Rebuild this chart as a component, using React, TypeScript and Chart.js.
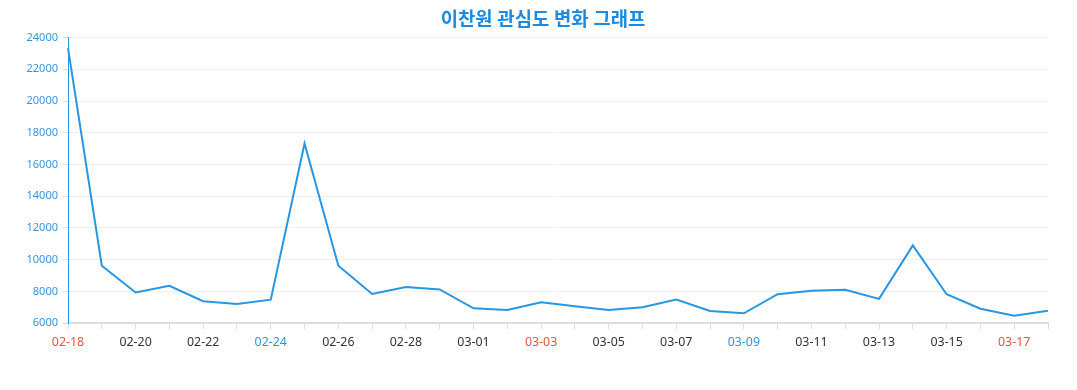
import React, { useEffect, useRef } from "react";
import { Chart, registerables } from "chart.js";

Chart.register(...registerables);

const title = "이찬원 관심도 변화 그래프";

const dates = [
  "02-18", "02-19", "02-20", "02-21", "02-22", "02-23", "02-24", "02-25", "02-26", "02-27",
  "02-28", "02-29", "03-01", "03-02", "03-03", "03-04", "03-05", "03-06", "03-07", "03-08",
  "03-09", "03-10", "03-11", "03-12", "03-13", "03-14", "03-15", "03-16", "03-17", "03-18",
];

const interest = [
  23350, 9620, 7930, 8350, 7380, 7210, 7480, 17320, 9620, 7840,
  8270, 8120, 6930, 6830, 7310, 7060, 6830, 7000, 7480, 6760,
  6620, 7820, 8040, 8100, 7530, 10900, 7820, 6910, 6470, 6780,
];

// weekend markers (2024)
const sundays = ["02-18", "02-25", "03-03", "03-10", "03-17"];
const saturdays = ["02-24", "03-02", "03-09", "03-16"];

const yMin = 6000;
const yMax = 24000;
const yStep = 2000;

const FONT = "'Noto Sans', 'Noto Sans CJK KR', 'Open Sans', sans-serif";

export default function App() {
  const ref = useRef<HTMLCanvasElement | null>(null);

  useEffect(() => {
    if (!ref.current) return;
    const chart = new Chart(ref.current, {
      type: "line",
      data: {
        labels: dates,
        datasets: [
          {
            data: interest,
            yAxisID: "y",
            borderColor: "#2896e3",
            backgroundColor: "#2896e3",
            borderWidth: 2,
            pointRadius: 0,
            pointHoverRadius: 0,
            tension: 0,
            fill: false,
          },
        ],
      },
      options: {
        animation: false,
        responsive: false,
        maintainAspectRatio: false,
        layout: { padding: { left: 9, right: 0, top: 0, bottom: 34 } },
        plugins: {
          legend: { display: false },
          tooltip: { enabled: false },
          title: {
            display: true,
            text: title,
            color: "#1a8be0",
            font: { family: FONT, size: 18.8, weight: "bold" },
            padding: { top: 9, bottom: 6 },
          },
        },
        scales: {
          x: {
            grid: {
              drawOnChartArea: false,
              drawTicks: true,
              tickLength: 6,
              color: "#dddddd",
            },
            border: { color: "#dddddd", width: 2 },
            ticks: {
              autoSkip: false,
              maxRotation: 0,
              padding: 6,
              font: { family: FONT, size: 12.4 },
              callback: (_v: any, i: number) => (i % 2 === 0 ? dates[i] : ""),
              color: (ctx: any) => {
                const d = dates[ctx.index];
                if (sundays.includes(d)) return "#e0573a";
                if (saturdays.includes(d)) return "#2f96d6";
                return "#333333";
              },
            },
          },
          y: {
            position: "left",
            min: yMin,
            max: yMax,
            afterFit: (scale: any) => {
              scale.width = 59;
            },
            grid: {
              color: "#f0f0f0",
              drawTicks: true,
              tickLength: 5,
              tickColor: "#dddddd",
            },
            border: { color: "#2896e3", width: 1 },
            ticks: {
              stepSize: yStep,
              padding: 5,
              color: "#3a93d6",
              font: { family: FONT, size: 11 },
              callback: (v: any) => String(v),
            },
          },
          spacer: {
            type: "linear",
            position: "right",
            display: true,
            grid: { display: false, drawTicks: false },
            border: { display: false },
            ticks: { display: false },
            afterFit: (scale: any) => {
              scale.width = 29;
            },
          },
        },
      },
    });
    return () => chart.destroy();
  }, []);

  return (
    <div style={{ position: "absolute", left: 0, top: 0, width: 1077, height: 390 }}>
      <canvas ref={ref} width={1077} height={390} />
    </div>
  );
}
